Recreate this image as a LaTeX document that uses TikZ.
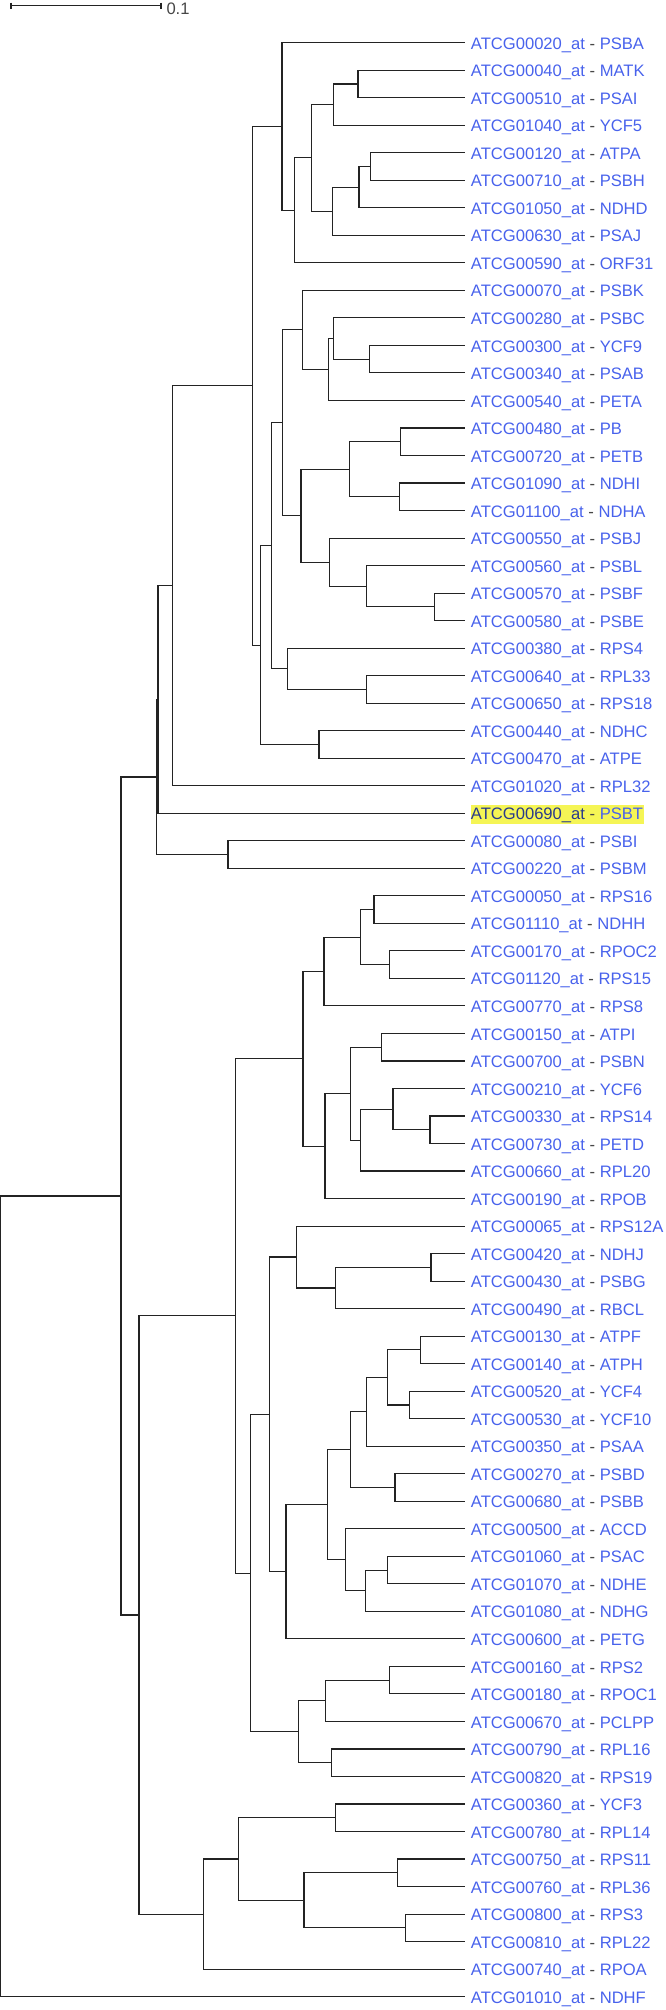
\documentclass[tikz,border=0pt]{standalone}
\usepackage{fontspec}
\setmainfont{Liberation Sans}
\definecolor{labblue}{RGB}{72,98,236}
\definecolor{labnavy}{RGB}{40,58,140}
\definecolor{dashgray}{RGB}{70,70,70}
\definecolor{hlyellow}{RGB}{245,245,85}
\definecolor{linecol}{RGB}{35,35,35}
\tikzset{
  branch/.style={draw=linecol, line width=1.1pt},
  leaftext/.style={anchor=base west, inner sep=0pt, font=\fontsize{16.6}{20}\selectfont},
  hlbox/.style={leaftext, fill=hlyellow, text height=14.9pt, text depth=4.1pt, inner xsep=0.4pt},
  scaletext/.style={anchor=base west, inner sep=0pt, text=dashgray, font=\fontsize{16.6}{20}\selectfont}
}
\newcommand{\mysep}{\textcolor{dashgray}{\ -\ }}
\begin{document}
\begin{tikzpicture}[x=1pt,y=-1pt]
\useasboundingbox (0,0) rectangle (666,2010);
% scale bar
\coordinate (sbL) at (11,5.7);
\coordinate (sbR) at (161,5.7);
\coordinate (sbLt) at (11,2.7);
\coordinate (sbLb) at (11,8.7);
\coordinate (sbRt) at (161,2.7);
\coordinate (sbRb) at (161,8.7);
\draw[branch] (sbL) -- (sbR);
\draw[branch] (sbLt) -- (sbLb);
\draw[branch] (sbRt) -- (sbRb);
\node[scaletext] (sblab) at (166.3,14.3) {0.1};
% leaves
\foreach \g/\n [count=\i] in {
ATCG00020/PSBA, ATCG00040/MATK, ATCG00510/PSAI, ATCG01040/YCF5, ATCG00120/ATPA,
ATCG00710/PSBH, ATCG01050/NDHD, ATCG00630/PSAJ, ATCG00590/ORF31, ATCG00070/PSBK,
ATCG00280/PSBC, ATCG00300/YCF9, ATCG00340/PSAB, ATCG00540/PETA, ATCG00480/PB,
ATCG00720/PETB, ATCG01090/NDHI, ATCG01100/NDHA, ATCG00550/PSBJ, ATCG00560/PSBL,
ATCG00570/PSBF, ATCG00580/PSBE, ATCG00380/RPS4, ATCG00640/RPL33, ATCG00650/RPS18,
ATCG00440/NDHC, ATCG00470/ATPE, ATCG01020/RPL32, ATCG00690/PSBT, ATCG00080/PSBI,
ATCG00220/PSBM, ATCG00050/RPS16, ATCG01110/NDHH, ATCG00170/RPOC2, ATCG01120/RPS15,
ATCG00770/RPS8, ATCG00150/ATPI, ATCG00700/PSBN, ATCG00210/YCF6, ATCG00330/RPS14,
ATCG00730/PETD, ATCG00660/RPL20, ATCG00190/RPOB, ATCG00065/RPS12A, ATCG00420/NDHJ,
ATCG00430/PSBG, ATCG00490/RBCL, ATCG00130/ATPF, ATCG00140/ATPH, ATCG00520/YCF4,
ATCG00530/YCF10, ATCG00350/PSAA, ATCG00270/PSBD, ATCG00680/PSBB, ATCG00500/ACCD,
ATCG01060/PSAC, ATCG01070/NDHE, ATCG01080/NDHG, ATCG00600/PETG, ATCG00160/RPS2,
ATCG00180/RPOC1, ATCG00670/PCLPP, ATCG00790/RPL16, ATCG00820/RPS19, ATCG00360/YCF3,
ATCG00780/RPL14, ATCG00750/RPS11, ATCG00760/RPL36, ATCG00800/RPS3, ATCG00810/RPL22,
ATCG00740/RPOA, ATCG01010/NDHF}{
  \pgfmathsetmacro{\yy}{42.7+(\i-1)*27.52}
  \coordinate (L\i) at (465,\yy);
  \ifnum\i=29
    \node[hlbox] (T\i) at (470.3,\yy+6.6) {\textcolor{labnavy}{\g\_at}\mysep\textcolor{labblue}{\n}};
  \else
    \node[leaftext] (T\i) at (470.7,\yy+6.6) {\textcolor{labblue}{\g\_at}\mysep\textcolor{labblue}{\n}};
  \fi
}
% internal nodes
\coordinate (nF) at (358,83.98);
\coordinate (nD) at (333.7,104.62);
\coordinate (nH) at (370.7,166.54);
\coordinate (nG) at (359,187.18);
\coordinate (nE) at (332.7,211.26);
\coordinate (nC) at (311.7,157.94);
\coordinate (nB) at (294.7,210.40);
\coordinate (nA) at (282,126.55);
\coordinate (nM) at (369.7,359.18);
\coordinate (nL) at (333.7,338.54);
\coordinate (nK) at (328.7,369.50);
\coordinate (nJ) at (302.7,329.94);
\coordinate (nR) at (400.3,441.74);
\coordinate (nS) at (399.3,496.78);
\coordinate (nP) at (349.7,469.26);
\coordinate (nU) at (434.3,606.86);
\coordinate (nT) at (366.7,586.22);
\coordinate (nQ) at (329.7,562.14);
\coordinate (nO) at (301,515.70);
\coordinate (nN) at (282.7,422.82);
\coordinate (nX) at (366.7,689.42);
\coordinate (nW) at (287.3,668.78);
\coordinate (nV) at (271.7,545.80);
\coordinate (nZ) at (319,744.46);
\coordinate (nY) at (260.7,645.13);
\coordinate (nI) at (252.3,385.84);
\coordinate (nAA) at (172.7,585.79);
\coordinate (nAB) at (158,699.53);
\coordinate (nAD) at (228,854.54);
\coordinate (nAC) at (156.8,777.03);
\coordinate (nAF) at (374,909.58);
\coordinate (nAH) at (389.7,964.62);
\coordinate (nAG) at (360.3,937.10);
\coordinate (nAI) at (324,971.50);
\coordinate (nAM) at (381.3,1047.18);
\coordinate (nAP) at (430,1129.74);
\coordinate (nAO) at (393,1109.10);
\coordinate (nAN) at (360.3,1140.06);
\coordinate (nAL) at (350.7,1093.62);
\coordinate (nAK) at (325,1146.08);
\coordinate (nAJ) at (303,1058.79);
\coordinate (nAW) at (431,1267.34);
\coordinate (nAV) at (335.7,1287.98);
\coordinate (nAT) at (296.7,1257.02);
\coordinate (nBD) at (420.7,1349.90);
\coordinate (nBE) at (409.7,1404.94);
\coordinate (nBC) at (387.7,1377.42);
\coordinate (nBA) at (366.7,1411.82);
\coordinate (nBB) at (395,1487.50);
\coordinate (nAY) at (350.7,1449.66);
\coordinate (nBG) at (387.7,1570.06);
\coordinate (nBF) at (365.7,1590.70);
\coordinate (nAZ) at (345.3,1559.74);
\coordinate (nAX) at (327.3,1504.70);
\coordinate (nAU) at (286,1571.78);
\coordinate (nAR) at (269.3,1414.40);
\coordinate (nBK) at (389.7,1680.14);
\coordinate (nBI) at (325.3,1700.78);
\coordinate (nBJ) at (331.7,1762.70);
\coordinate (nBH) at (298.7,1731.74);
\coordinate (nAS) at (250.3,1573.07);
\coordinate (nAQ) at (235.3,1315.93);
\coordinate (nBO) at (335.7,1817.74);
\coordinate (nBQ) at (397.3,1872.78);
\coordinate (nBR) at (405.7,1927.82);
\coordinate (nBP) at (304,1900.30);
\coordinate (nBN) at (238.7,1859.02);
\coordinate (nBM) at (203.3,1914.06);
\coordinate (nBL) at (139,1614.99);
\coordinate (nAE) at (121,1196.01);
\coordinate (nROOT) at (0.8,1596.3);
% branches
\foreach \p/\c in {
nROOT/nAE, nROOT/L72, nAE/nAC, nAE/nBL, nAC/nAB, nAC/nAD, nAB/nAA, nAB/L29,
nAD/L30, nAD/L31, nAA/nI, nAA/L28, nI/nA, nI/nY, nA/L1, nA/nB, nB/nC, nB/L9,
nC/nD, nC/nE, nD/nF, nD/L4, nF/L2, nF/L3, nE/nG, nE/L8, nG/nH, nG/L7, nH/L5, nH/L6,
nY/nV, nY/nZ, nZ/L26, nZ/L27, nV/nN, nV/nW, nW/L23, nW/nX, nX/L24, nX/L25,
nN/nJ, nN/nO, nJ/L10, nJ/nK, nK/nL, nK/L14, nL/L11, nL/nM, nM/L12, nM/L13,
nO/nP, nO/nQ, nP/nR, nP/nS, nR/L15, nR/L16, nS/L17, nS/L18,
nQ/L19, nQ/nT, nT/L20, nT/nU, nU/L21, nU/L22,
nBL/nAQ, nBL/nBM, nAQ/nAJ, nAQ/nAS, nAJ/nAI, nAJ/nAK, nAI/nAG, nAI/L36,
nAG/nAF, nAG/nAH, nAF/L32, nAF/L33, nAH/L34, nAH/L35,
nAK/nAL, nAK/L43, nAL/nAM, nAL/nAN, nAM/L37, nAM/L38, nAN/nAO, nAN/L42,
nAO/L39, nAO/nAP, nAP/L40, nAP/L41,
nAS/nAR, nAS/nBH, nAR/nAT, nAR/nAU, nAT/L44, nAT/nAV, nAV/nAW, nAV/L47,
nAW/L45, nAW/L46, nAU/nAX, nAU/L59, nAX/nAY, nAX/nAZ, nAY/nBA, nAY/nBB,
nBA/nBC, nBA/L52, nBC/nBD, nBC/nBE, nBD/L48, nBD/L49, nBE/L50, nBE/L51,
nBB/L53, nBB/L54, nAZ/L55, nAZ/nBF, nBF/nBG, nBF/L58, nBG/L56, nBG/L57,
nBH/nBI, nBH/nBJ, nBI/nBK, nBI/L62, nBK/L60, nBK/L61, nBJ/L63, nBJ/L64,
nBM/nBN, nBM/L71, nBN/nBO, nBN/nBP, nBO/L65, nBO/L66, nBP/nBQ, nBP/nBR,
nBQ/L67, nBQ/L68, nBR/L69, nBR/L70}{
  \draw[branch] (\p) |- (\c);
}
\end{tikzpicture}
\end{document}
